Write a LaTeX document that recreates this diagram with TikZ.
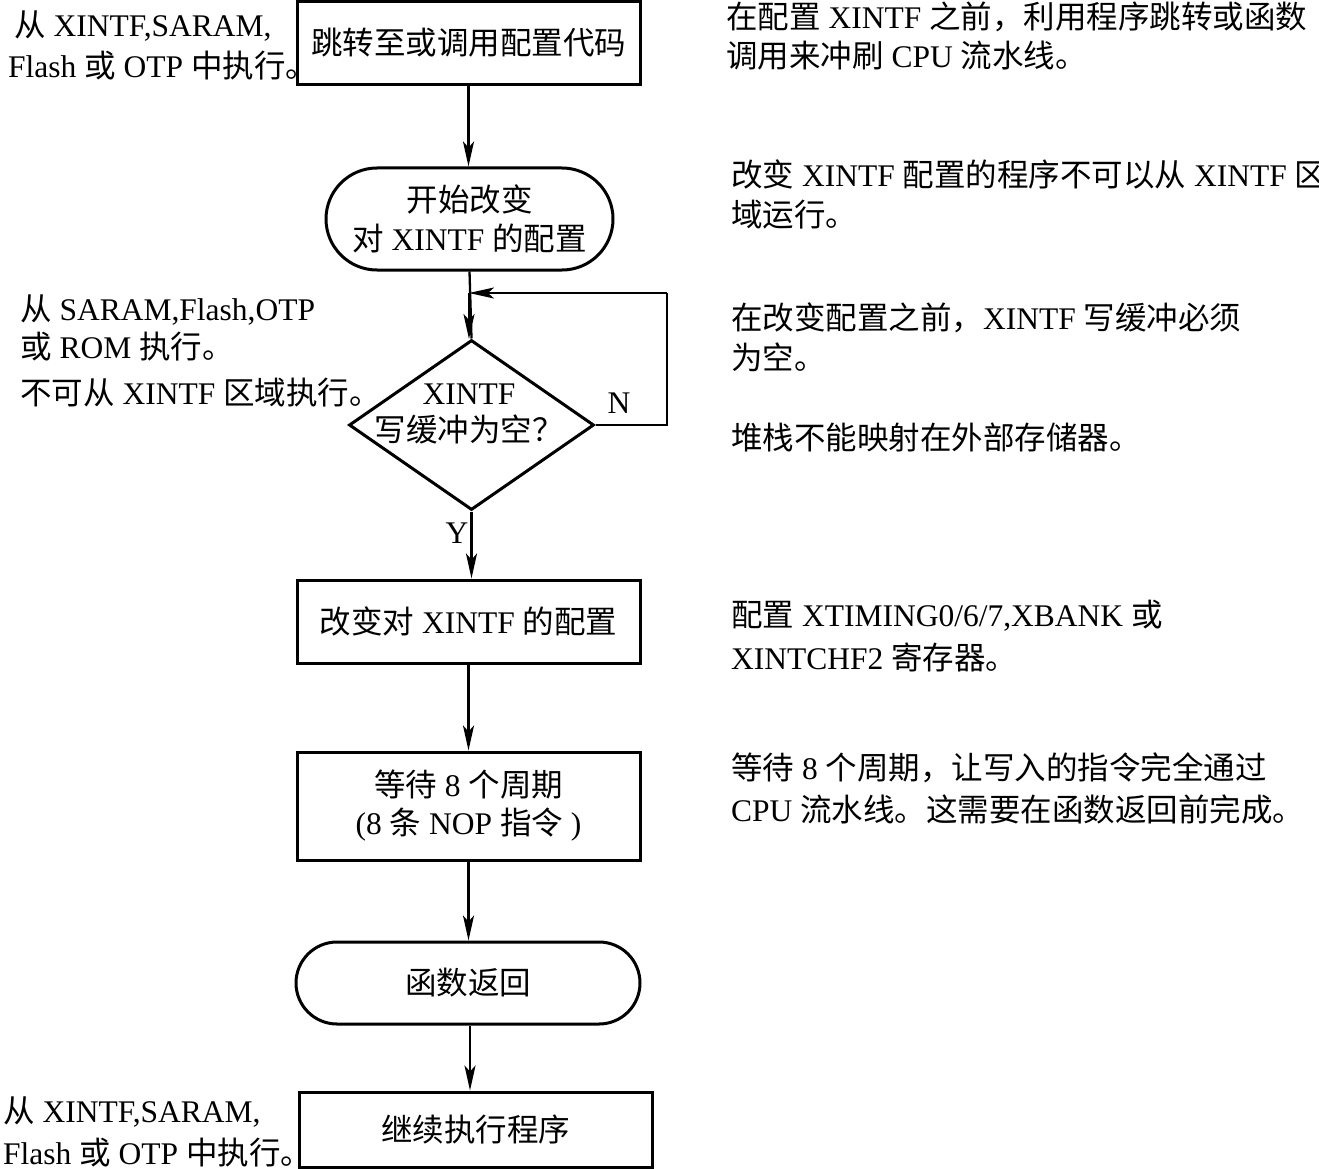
\documentclass[tikz,border=0pt]{standalone}
\usepackage{fontspec}
\setmainfont{Liberation Serif}
\newfontfamily\cjkfont{Noto Sans CJK SC}
\newcommand\zh[1]{{\cjkfont #1}}
\usetikzlibrary{shapes.geometric,shapes.misc,arrows.meta}
\tikzset{
  txt/.style={font=\fontsize{31.5}{41}\selectfont, inner sep=0pt},
  note/.style={txt, align=left, anchor=base west},
  boxnode/.style={txt, draw, line width=3pt, rectangle, align=center},
  stadium/.style={txt, draw, line width=3pt, rounded rectangle, align=center},
  arr/.style={line width=2.3pt, -{Stealth[length=25pt,width=11pt,inset=6pt]}},
  link/.style={line width=2.3pt},
}
\begin{document}
\begin{tikzpicture}[x=1pt,y=-1pt]
\useasboundingbox (0,0) rectangle (1319,1169);
\fill[white] (0,0) rectangle (1319,1169);
% flow nodes
\node[boxnode, minimum width=343pt, minimum height=83pt] (b1) at (468.5,43) {\zh{跳转至或调用配置代码}};
\node[stadium, minimum width=287pt, minimum height=102pt] (s2) at (469.5,219) {\zh{开始改变}\\[-2pt]\zh{对} XINTF \zh{的配置}};
\node[draw, diamond, line width=3pt, minimum width=245pt, minimum height=170pt, inner sep=0pt] (d) at (471.5,425) {};
\node[txt, align=center] (dtxt) at (469,414) {XINTF\\[-4pt]\zh{写缓冲为空？}};
\node[boxnode, minimum width=343pt, minimum height=83pt] (b3) at (468.5,621.5) {\zh{改变对} XINTF \zh{的配置}};
\node[boxnode, minimum width=343pt, minimum height=108pt] (b4) at (468.5,806) {\zh{等待} 8 \zh{个周期}\\[-3pt](8 \zh{条} NOP \zh{指令} )};
\node[stadium, minimum width=344pt, minimum height=82pt] (s5) at (468,983) {\zh{函数返回}};
\node[boxnode, minimum width=353pt, minimum height=75pt] (b6) at (475.5,1129.5) {\zh{继续执行程序}};
% labels
\node[txt] (nlab) at (619,403) {N};
\node[txt] (ylab) at (457,533) {Y};
\coordinate (fbr) at (667,293);
\coordinate (fbd) at (667,425);
\coordinate (fbl) at (469,293);
% connectors
\draw[arr] (b1.south) -- (b1.south |- s2.north);
\draw[link] (s2.south) -- (d.north);
\draw[arr] (fbl) -- ++(0,46) coordinate (ah);
\draw[link] (d.east) -- (fbd) -- (fbr);
\draw[arr] (fbr) -- (fbl);
\draw[arr] (d.south) -- (d.south |- b3.north);
\draw[arr] (b3.south) -- (b3.south |- b4.north);
\draw[arr] (b4.south) -- (b4.south |- s5.north);
\draw[arr] ([xshift=2pt]s5.south) -- ([xshift=2pt]s5.south |- b6.north);
% left notes (anchor: baseline of last line)
\node[note] (l1) at (8,78) {\hspace*{6pt}\zh{从} XINTF,SARAM,\\Flash \zh{或} OTP \zh{中执行。}};
\node[note] (l2) at (20,404) {\zh{从} SARAM,Flash,OTP\\[-3pt]\zh{或} ROM \zh{执行。}\\[5pt]\zh{不可从} XINTF \zh{区域执行。}};
\node[note] (l3) at (3,1164) {\zh{从} XINTF,SARAM,\\[1pt]Flash \zh{或} OTP \zh{中执行。}};
% right notes
\node[note] (r1) at (726,68) {\zh{在配置} XINTF \zh{之前，利用程序跳转或函数}\\[-2pt]\zh{调用来冲刷} CPU \zh{流水线。}};
\node[note] (r2) at (731,226) {\zh{改变} XINTF \zh{配置的程序不可以从} XINTF \zh{区}\\[-1pt]\zh{域运行。}};
\node[note] (r3) at (731,369) {\zh{在改变配置之前，}XINTF \zh{写缓冲必须}\\[-1pt]\zh{为空。}};
\node[note] (r4) at (731,449) {\zh{堆栈不能映射在外部存储器。}};
\node[note] (r5) at (731,669) {\zh{配置} XTIMING0/6/7,XBANK \zh{或}\\[2pt]XINTCHF2 \zh{寄存器。}};
\node[note] (r6) at (731,821) {\zh{等待} 8 \zh{个周期，让写入的指令完全通过}\\[1pt]CPU \zh{流水线。这需要在函数返回前完成。}};
\end{tikzpicture}
\end{document}
